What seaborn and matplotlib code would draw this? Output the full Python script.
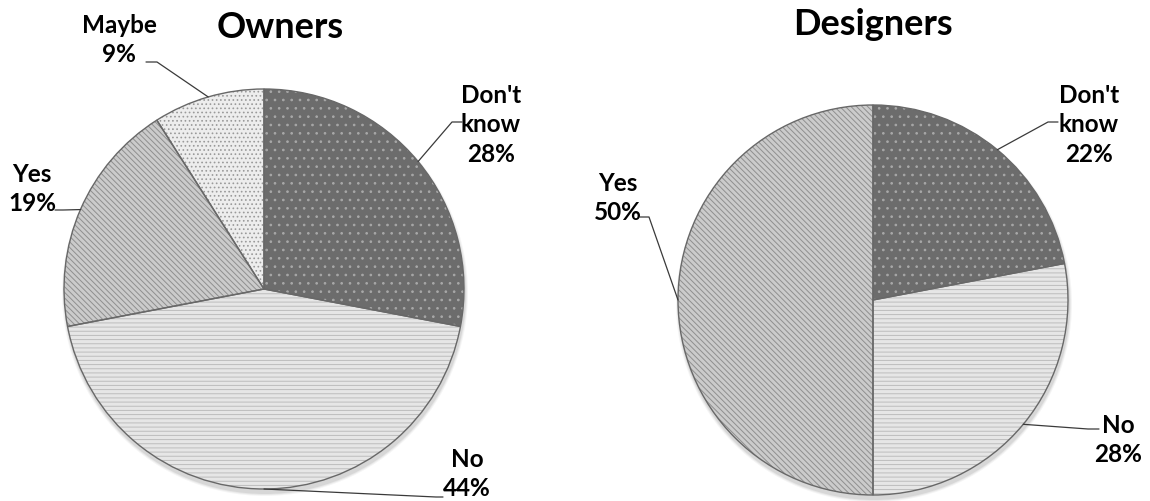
import numpy as np
import matplotlib
matplotlib.use("Agg")
import matplotlib.pyplot as plt
import seaborn as sns

# ---- data ----
titles = ["Owners", "Designers"]
owners_labels = ["Don't know", "No", "Yes", "Maybe"]
owners_values = [28, 44, 19, 9]
designers_labels = ["Don't know", "No", "Yes"]
designers_values = [22, 28, 50]

sns.set_theme(style="white")
plt.rcParams['font.family'] = ['Lato', 'DejaVu Sans']
plt.rcParams['hatch.linewidth'] = 0.7

styles = {
    "Don't know": dict(face="#6c6c6c", hatch="..", hc="#a8a8a8"),
    "No": dict(face="#e6e6e6", hatch="----", hc="#bcbcbc"),
    "Yes": dict(face="#cbcbcb", hatch="\\\\\\\\\\\\", hc="#8f8f8f"),
    "Maybe": dict(face="#ededed", hatch="....", hc="#9a9a9a"),
}

W, H = 1150, 502
fig = plt.figure(figsize=(11.5, 5.02), dpi=100)
ax = fig.add_axes([0, 0, 1, 1])


def draw(labels, values, cx, cy, r, title, title_xy, layout):
    c = (cx, H - cy)
    # soft shadow
    for k, a in [(6, 0.04), (4, 0.05), (2, 0.07)]:
        ax.add_patch(plt.Circle((cx + 1, H - cy - 4), r + k * 0.5, color="black",
                                alpha=a, lw=0, zorder=0))
    wedges, _ = ax.pie(values, colors=[styles[l]['face'] for l in labels],
                       startangle=90, counterclock=False, center=c, radius=r,
                       wedgeprops=dict(linewidth=0))
    for w, l in zip(wedges, labels):
        w.set_hatch(styles[l]['hatch'])
        w.set_edgecolor(styles[l]['hc'])
        w.set_zorder(1)
    outl, _ = ax.pie(values, startangle=90, counterclock=False, center=c, radius=r,
                     wedgeprops=dict(fill=False, edgecolor="#686868", linewidth=1.0))
    for w in outl:
        w.set_zorder(2)
    for w, l, v in zip(wedges, labels, values):
        tx, ty, anc, elb = layout[l]
        mid = np.deg2rad((w.theta1 + w.theta2) / 2)
        ex, ey = cx + r * np.cos(mid), (H - cy) + r * np.sin(mid)
        ax.plot([anc[0], elb[0], ex], [H - anc[1], H - elb[1], ey],
                color="#3a3a3a", lw=0.9, zorder=3)
        txt = l.replace(" ", "\n") + f"\n{v}%"
        ax.text(tx, H - ty, txt, ha="center", va="center", fontsize=17.5,
                fontweight="bold", linespacing=1.33, color="black", zorder=4)
    ax.text(title_xy[0], H - title_xy[1], title, ha="center", va="baseline",
            fontsize=26, fontweight="bold", color="black")


owners_layout = {
    "Maybe": (119, 40, (146, 63), (157, 63)),
    "Don't know": (491, 125, (462, 123), (452, 123)),
    "Yes": (32, 189, (55, 211), (63, 211)),
    "No": (467, 474, (443, 498), (436, 498)),
}
designers_layout = {
    "Don't know": (1089, 125, (1058, 123), (1048, 123)),
    "Yes": (618, 198, (640, 218), (649, 218)),
    "No": (1118, 440, (1099, 430), (1088, 430)),
}

draw(owners_labels, owners_values, 264, 290, 200, titles[0], (280, 38), owners_layout)
draw(designers_labels, designers_values, 873, 301, 195, titles[1], (873, 35), designers_layout)

ax.set_xlim(0, W)
ax.set_ylim(0, H)
ax.set_aspect('auto')
ax.axis('off')
fig.savefig("out.png", dpi=100)
